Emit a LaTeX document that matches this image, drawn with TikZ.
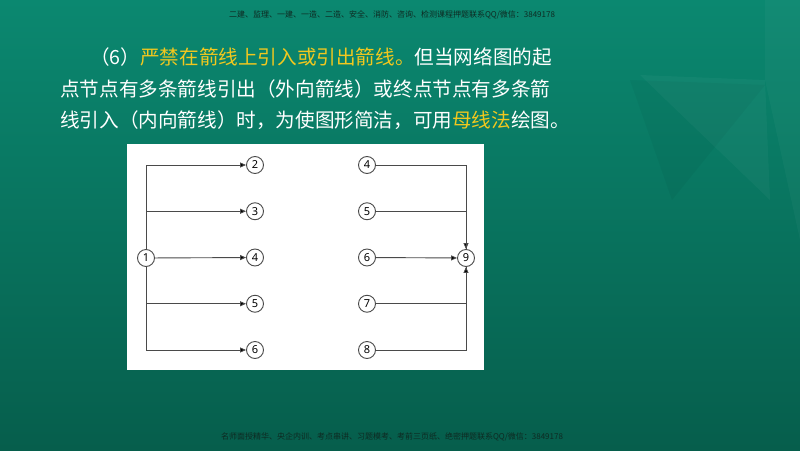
\documentclass[tikz,border=0pt]{standalone}
\usepackage{fontspec}
\usepackage{xcolor}
\setmainfont{Noto Sans}
\newfontfamily\cjk{Noto Sans CJK SC}
\usetikzlibrary{arrows.meta}

\definecolor{bgtop}{HTML}{0B8870}
\definecolor{bgbot}{HTML}{065E4C}
\definecolor{hlyellow}{HTML}{F2C81E}
\definecolor{linegray}{HTML}{4A4A4A}
\definecolor{notegray}{HTML}{0E2A22}
\newcommand{\yel}[1]{\textcolor{hlyellow}{#1}}

\begin{document}
\begin{tikzpicture}[x=1pt, y=-1pt, ->, >={Triangle[length=6pt,width=5pt]},
  node distance=46.25pt,
  state/.style={circle, draw=linegray, line width=0.9pt, fill=white,
    minimum size=17pt, inner sep=0pt, font=\fontsize{11}{11}\selectfont},
  para/.style={text=white, inner sep=0pt, font=\cjk\fontsize{19.6}{24}\selectfont},
  note/.style={text=notegray, inner sep=0pt, font=\cjk\fontsize{8}{8}\selectfont},
  edge/.style={draw=linegray, line width=0.9pt}]
  \useasboundingbox (0,0) rectangle (800,450);
  \shade[top color=bgtop, bottom color=bgbot, draw=none] (0,0) rectangle (800,450);
  \fill[white, opacity=0.035] (640,75) -- (765,80) -- (770,200) -- cycle;
  \fill[black, opacity=0.035] (630,80) -- (765,85) -- (672,200) -- cycle;
  \fill[white, opacity=0.03] (765,0) -- (800,0) -- (800,240) -- (765,80) -- cycle;

  \node[note] (top) at (392,15) {二建、监理、一建、一造、二造、安全、消防、咨询、检测课程押题联系QQ/微信：3849178};
  \node[note] (bot) at (392,437) {名师面授精华、央企内训、考点串讲、习题模考、考前三页纸、绝密押题联系QQ/微信：3849178};

  \node[para, anchor=base east] (line1) at (552,64)
    {（6）\yel{严禁在箭线上引入或引出箭线。}但当网络图的起};
  \node[para, anchor=base west] (line2) at (60,96)
    {点节点有多条箭线引出（外向箭线）或终点节点有多条箭};
  \node[para, anchor=base west] (line3) at (60,127)
    {线引入（内向箭线）时，为使图形简洁，可用\yel{母线法}绘图。};

  \fill[white] (127,144) rectangle (484,370);

  \node[state] (L1) at (146,258) {1};
  \node[state] (L2) at (255,165) {2};
  \node[state] (L3) [below of=L2] {3};
  \node[state] (L4) [below of=L3] {4};
  \node[state] (L5) [below of=L4] {5};
  \node[state] (L6) [below of=L5] {6};

  \node[state] (R4) at (367,165) {4};
  \node[state] (R5) [below of=R4] {5};
  \node[state] (R6) [below of=R5] {6};
  \node[state] (R7) [below of=R6] {7};
  \node[state] (R8) [below of=R7] {8};
  \node[state] (R9) at (466,258) {9};

  \path[edge] (L1) edge[to path={|- (\tikztotarget)}] (L2)
                   edge[to path={|- (\tikztotarget)}] (L3)
                   edge (L4)
                   edge[to path={|- (\tikztotarget)}] (L5)
                   edge[to path={|- (\tikztotarget)}] (L6);

  \path[edge] (R4) edge[to path={-| (\tikztotarget)}] (R9)
              (R5) edge[-, to path={-| (\tikztotarget)}] (R9)
              (R6) edge (R9)
              (R7) edge[-, to path={-| (\tikztotarget)}] (R9)
              (R8) edge[to path={-| (\tikztotarget)}] (R9);
\end{tikzpicture}
\end{document}
